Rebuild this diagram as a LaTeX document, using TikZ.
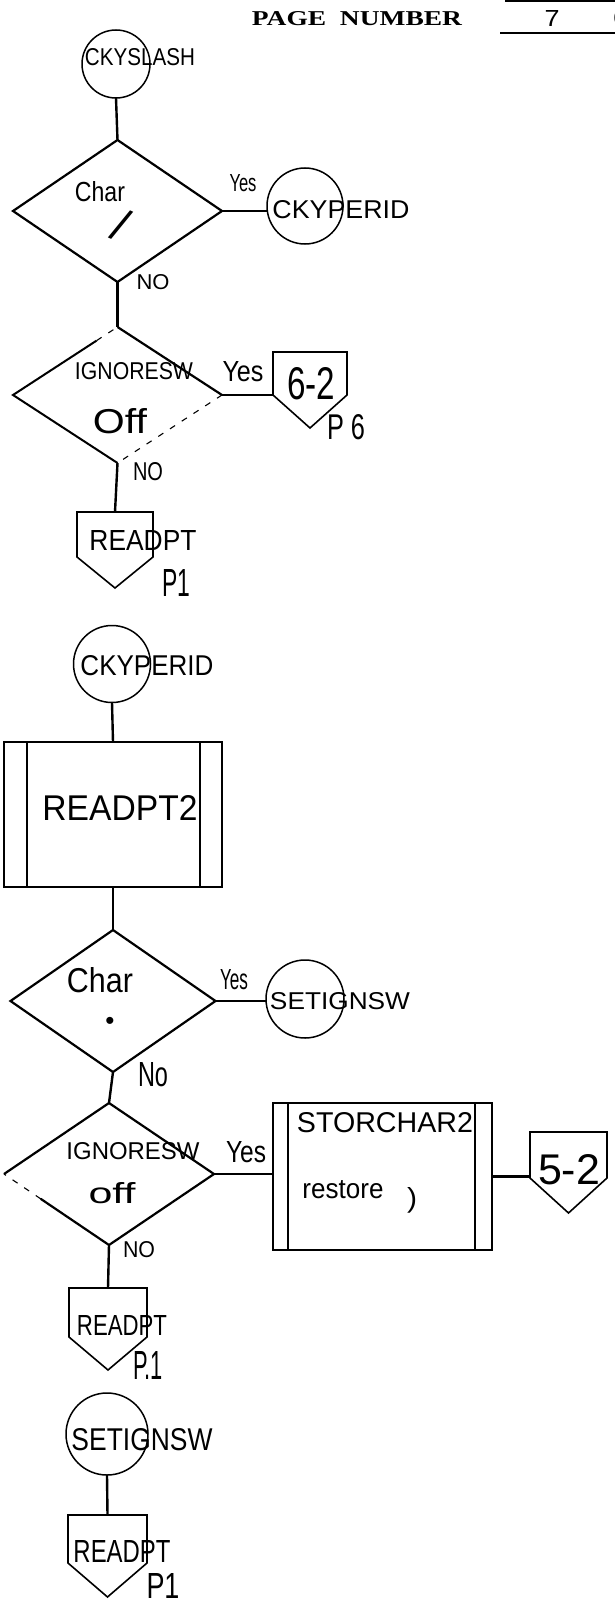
\documentclass[tikz,border=0pt]{standalone}
\usepackage{fontspec}
\setmainfont{Liberation Sans}
\newfontfamily\serifb{Liberation Serif}
\usetikzlibrary{shapes.geometric,calc}
\newcommand{\fitt}[3]{\resizebox{#1pt}{#2pt}{#3}}
\newcommand{\offpage}[2]{\draw[outl] (#1.south west) -- (#1.north west) -- (#1.north east) -- (#1.south east) -- ($(#1.south)+(0,#2)$) -- cycle;}
\begin{document}
\begin{tikzpicture}[x=1pt,y=-1pt,
  lbl/.style={inner sep=0pt,outer sep=0pt,anchor=center},
  conn/.style={line width=2.4pt},
  dia/.style={diamond,draw,line width=2.2pt,inner sep=0pt,outer sep=0pt},
  diaU/.style={diamond,inner sep=0pt,outer sep=0pt},
  term/.style={circle,draw,line width=1.5pt,inner sep=0pt,outer sep=0pt},
  offp/.style={rectangle,inner sep=0pt,outer sep=0pt},
  proc/.style={rectangle,draw,line width=1.6pt,inner sep=0pt,outer sep=0pt},
  outl/.style={line width=1.6pt,line join=miter},
  thinl/.style={line width=1.2pt},
  dashl/.style={line width=1.1pt,dash pattern=on 6pt off 8pt}
]
\fill[white] (0,0) rectangle (615,1613);
\useasboundingbox (0,0) rectangle (615,1613);

% header
\node[lbl] (pn) at (357,19) {\fitt{210}{14}{\serifb\bfseries PAGE\ \ NUMBER}};
\node[lbl] (pg) at (552,19) {\fitt{15}{16}{7}};
\node[lbl] (pg2) at (622,18) {\fitt{18}{17}{\serifb 0}};
\draw[thinl] (500,33) -- (615,33);
\draw[thinl] (505,1) -- (615,1);

% shapes
\node[term, minimum size=68pt] (c1) at (116,64) {};
\node[dia, minimum width=209pt, minimum height=142pt] (d1) at (117.5,211) {};
\node[term, minimum size=76pt] (c2) at (305,206) {};
\node[diaU, minimum width=209pt, minimum height=136pt] (d2) at (117.5,395) {};
\node[offp, minimum width=74pt, minimum height=43pt] (p62) at (310,373.5) {};
\node[offp, minimum width=76pt, minimum height=45pt] (pr1) at (115,534.5) {};
\node[term, minimum size=77pt] (c3) at (112,664) {};
\node[proc, minimum width=218pt, minimum height=145pt] (b1) at (113,814.5) {};
\node[dia, minimum width=205pt, minimum height=142pt] (d3) at (113,1001) {};
\node[term, minimum size=78pt] (c4) at (305,999) {};
\node[diaU, minimum width=210pt, minimum height=142pt] (d4) at (109,1174) {};
\node[proc, minimum width=219pt, minimum height=147pt] (b2) at (382.5,1176.5) {};
\node[offp, minimum width=77pt, minimum height=46pt] (p52) at (568.5,1155) {};
\node[offp, minimum width=78pt, minimum height=49pt] (pr3) at (108,1312.5) {};
\node[term, minimum size=82pt] (c5) at (107,1434) {};
\node[offp, minimum width=79pt, minimum height=48pt] (pr4) at (107.5,1539) {};

% diamond 2 outline (partly faint)
\draw[line width=2.2pt] (d2.north) -- (d2.east);
\draw[dashl] (d2.east) -- (d2.south);
\draw[line width=2pt] (d2.south) -- (d2.west) -- ($(d2.west)!0.8!(d2.north)$);
\draw[dashl] ($(d2.west)!0.8!(d2.north)$) -- (d2.north);
% diamond 4 outline
\draw[line width=2.2pt] (d4.west) -- (d4.north) -- (d4.east) -- (d4.south) -- ($(d4.south)!0.65!(d4.west)$);
\draw[dashl] ($(d4.south)!0.65!(d4.west)$) -- (d4.west);

% off-page connectors
\offpage{p62}{33}
\offpage{pr1}{31}
\offpage{p52}{35}
\offpage{pr3}{33}
\offpage{pr4}{34}

% process boxes inner lines
\draw[outl] ([xshift=23pt]b1.north west) -- ([xshift=23pt]b1.south west);
\draw[outl] ([xshift=-22pt]b1.north east) -- ([xshift=-22pt]b1.south east);
\draw[outl] ([xshift=15pt]b2.north west) -- ([xshift=15pt]b2.south west);
\draw[outl] ([xshift=-17pt]b2.north east) -- ([xshift=-17pt]b2.south east);

% connectors
\draw[conn] (c1.south) -- (d1.north);
\draw[conn] (d1.east) -- (d1.east -| c2.west);
\draw[conn] (d1.south) -- (d2.north);
\draw[conn] (d2.east) -- (d2.east -| p62.west);
\draw[conn] (d2.south) -- (pr1.north);
\draw[conn] (c3.south) -- (b1.north);
\draw[conn] (b1.south) -- (d3.north);
\draw[conn] (d3.east) -- (d3.east -| c4.west);
\draw[conn] (d3.south) -- (d4.north);
\draw[conn] (d4.east) -- (d4.east -| b2.west);
\draw[conn] (d4.south) -- (pr3.north);
\draw[conn] (b2.east) -- (b2.east -| p52.west);
\draw[conn] (c5.south) -- (pr4.north);

% texts
\node[lbl] (t1) at (140,57.5) {\fitt{110}{17}{CKYSLASH}};
\node[lbl] (t2) at (100,192) {\fitt{50}{20}{Char}};
\node[lbl] (t3) at (121,225) {\rotatebox{-24}{\fontsize{46}{46}\selectfont /}};
\node[lbl] (t4) at (243,183) {\fitt{27}{17}{Yes}};
\node[lbl] (t5) at (341,210) {\fitt{137}{18}{CKYPERID}};
\node[lbl] (t6) at (153,282) {\fitt{33}{15}{NO}};
\node[lbl] (t7) at (134,371) {\fitt{118}{17}{IGNORESW}};
\node[lbl] (t8) at (120,421) {\fitt{54}{25}{Off}};
\node[lbl] (t9) at (243,372) {\fitt{41}{20}{Yes}};
\node[lbl] (t10) at (311,384) {\fitt{48}{32}{6-2}};
\node[lbl] (t11) at (346,427) {\fitt{38}{25}{P 6}};
\node[lbl] (t12) at (148,472) {\fitt{30}{18}{NO}};
\node[lbl] (t13) at (143,540) {\fitt{107}{20}{READPT}};
\node[lbl] (t14) at (176,583) {\fitt{28}{27}{P1}};
\node[lbl] (t15) at (147,666) {\fitt{133}{20}{CKYPERID}};
\node[lbl] (t16) at (120,808) {\fitt{155}{25}{READPT2}};
\node[lbl] (t17) at (100,980) {\fitt{66}{25}{Char}};
\node[lbl] (t18) at (110,1023) {\fontsize{26}{26}\selectfont\textbullet};
\node[lbl] (t19) at (234,980) {\fitt{28}{20}{Yes}};
\node[lbl] (t20) at (340,1001) {\fitt{140}{17}{SETIGNSW}};
\node[lbl] (t21) at (153,1075) {\fitt{30}{24}{No}};
\node[lbl] (t22) at (133,1151) {\fitt{133}{17}{IGNORESW}};
\node[lbl] (t23) at (246,1152) {\fitt{40}{21}{Yes}};
\node[lbl] (t24) at (112,1193) {\fitt{47}{21}{off}};
\node[lbl] (t25) at (385,1123) {\fitt{176}{20}{STORCHAR2}};
\node[lbl] (t26) at (343,1190) {\fitt{81}{18}{restore}};
\node[lbl] (t27) at (412,1200) {\fitt{10}{20}{)}};
\node[lbl] (t28) at (569,1170) {\fitt{62}{30}{5-2}};
\node[lbl] (t29) at (139,1250) {\fitt{32}{16}{NO}};
\node[lbl] (t30) at (122,1325) {\fitt{90}{20}{READPT}};
\node[lbl] (t31) at (148,1365) {\fitt{30}{28}{P.1}};
\node[lbl] (t32) at (142,1440) {\fitt{141}{22}{SETIGNSW}};
\node[lbl] (t33) at (122,1551) {\fitt{97}{22}{READPT}};
\node[lbl] (t34) at (163,1586) {\fitt{33}{25}{P1}};
\end{tikzpicture}
\end{document}
